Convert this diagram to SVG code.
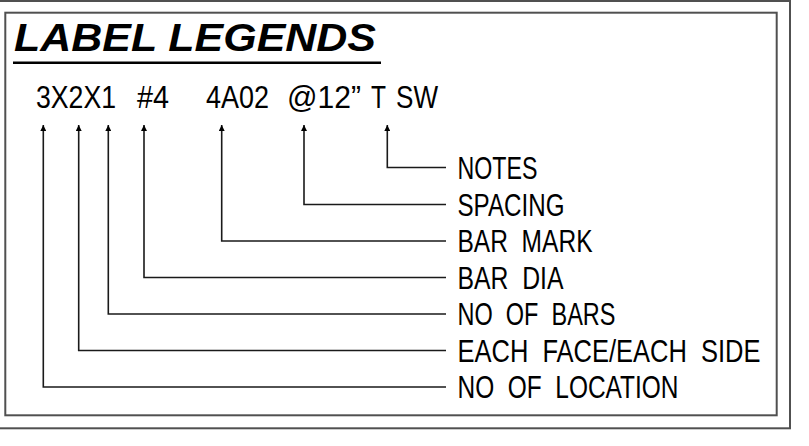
<svg xmlns="http://www.w3.org/2000/svg" width="809" height="446" viewBox="0 0 809 446">
<defs>
<style>
.frame{fill:none;stroke:#505050;stroke-width:2}
.ln{fill:none;stroke:#1a1a1a;stroke-width:1.6}
.cad{font-family:"Liberation Sans Narrow","Liberation Sans",Arial,sans-serif;fill:#000;white-space:pre}
.lbl{font-size:31px}
.code{font-size:32px}
.title{font-family:"Liberation Sans",Arial,sans-serif;font-weight:bold;font-style:italic;font-size:39px;fill:#000}
</style>
<marker id="ah" viewBox="0 0 10 10" refX="10" refY="5" markerWidth="15" markerHeight="6" markerUnits="userSpaceOnUse" orient="auto">
<path d="M0,0 L10,5 L0,10 Z" fill="#000"/>
</marker>
</defs>
<rect width="809" height="446" fill="#fff"/>
<rect class="frame" x="-3" y="1" width="793" height="427.3"/>
<rect class="frame" x="5.3" y="12.7" width="771.4" height="402.6"/>
<g id="title">
<text class="title" x="14" y="50.5" textLength="362" lengthAdjust="spacingAndGlyphs">LABEL LEGENDS</text>
<line x1="13" y1="62.7" x2="381" y2="62.7" stroke="#000" stroke-width="2.6"/>
</g>
<g id="code">
<text class="cad code" x="36" y="108.3" textLength="80" lengthAdjust="spacingAndGlyphs">3X2X1</text>
<text class="cad code" x="137" y="108.3" textLength="32" lengthAdjust="spacingAndGlyphs">#4</text>
<text class="cad code" x="206" y="108.3" textLength="63" lengthAdjust="spacingAndGlyphs">4A02</text>
<text class="cad code" x="287" y="108.3" textLength="74" lengthAdjust="spacingAndGlyphs">@12”</text>
<text class="cad code" x="371" y="108.3" textLength="15" lengthAdjust="spacingAndGlyphs">T</text>
<text class="cad code" x="396" y="108.3" textLength="42" lengthAdjust="spacingAndGlyphs">SW</text>
</g>
<g id="connectors">
<polyline class="ln" points="446,167.5 387.3,167.5 387.3,125" marker-end="url(#ah)"/>
<polyline class="ln" points="446,204.5 304,204.5 304,125" marker-end="url(#ah)"/>
<polyline class="ln" points="446,241 221.7,241 221.7,125" marker-end="url(#ah)"/>
<polyline class="ln" points="446,277.5 144,277.5 144,125" marker-end="url(#ah)"/>
<polyline class="ln" points="446,314 108.3,314 108.3,125" marker-end="url(#ah)"/>
<polyline class="ln" points="446,350.5 78.7,350.5 78.7,125" marker-end="url(#ah)"/>
<polyline class="ln" points="446,387 43.3,387 43.3,125" marker-end="url(#ah)"/>
</g>
<g id="notes"><text class="cad lbl" x="457.5" y="178.5" textLength="80" lengthAdjust="spacingAndGlyphs">NOTES</text></g>
<g id="spacing"><text class="cad lbl" x="457.5" y="215.5" textLength="107" lengthAdjust="spacingAndGlyphs">SPACING</text></g>
<g id="bar-mark"><text class="cad lbl" x="457.5" y="252" textLength="135" lengthAdjust="spacingAndGlyphs">BAR&#160;&#160;MARK</text></g>
<g id="bar-dia"><text class="cad lbl" x="457.5" y="288.5" textLength="106" lengthAdjust="spacingAndGlyphs">BAR&#160;&#160;DIA</text></g>
<g id="no-of-bars"><text class="cad lbl" x="457.5" y="325" textLength="158" lengthAdjust="spacingAndGlyphs">NO&#160;&#160;OF&#160;&#160;BARS</text></g>
<g id="each-face"><text class="cad lbl" x="457.5" y="361.5" textLength="303" lengthAdjust="spacingAndGlyphs">EACH&#160;&#160;FACE/EACH&#160;&#160;SIDE</text></g>
<g id="no-of-location"><text class="cad lbl" x="457.5" y="398" textLength="221" lengthAdjust="spacingAndGlyphs">NO&#160;&#160;OF&#160;&#160;LOCATION</text></g>
</svg>
